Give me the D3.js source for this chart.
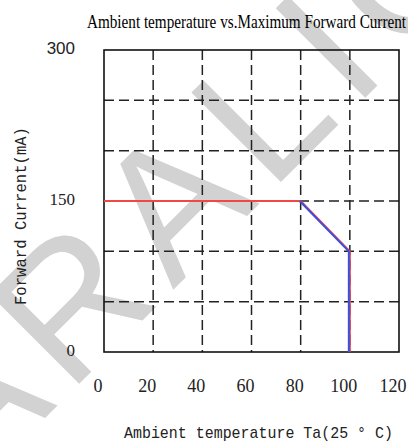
<!DOCTYPE html>
<html><head><meta charset="utf-8">
<script src="https://cdn.jsdelivr.net/npm/d3@7"></script>
<style>html,body{margin:0;padding:0;background:#fff;}svg{display:block;}</style>
</head><body>
<svg id="chart" width="408" height="447"></svg>
<script>
// ---- data ----
const xTicks = [0, 20, 40, 60, 80, 100, 120];
const yTicks = [0, 150, 300];
const xGrid = [20, 40, 60, 80, 100];
const yGrid = [50, 100, 150, 200, 250];
const deratingTemp = [0, 80, 100, 100];
const deratingCurrent = [150, 150, 100, 0];
const blueTemp = [80, 100, 100];
const blueCurrent = [150, 100, 0];
const titleText = "Ambient temperature vs.Maximum Forward Current";
const xLabel = "Ambient temperature Ta(25 ° C)";
const yLabel = "Forward Current(mA)";
const watermark = "ARALIGHT";

const svg = d3.select("#chart");
const W = 408, H = 447;
const m = {left: 104, right: 9, top: 50, bottom: 95};
const x = d3.scaleLinear().domain([0, 120]).range([m.left, W - m.right]);
const y = d3.scaleLinear().domain([0, 300]).range([H - m.bottom, m.top]);

// watermark (behind everything)
svg.append("text")
  .attr("transform", "translate(-29,492) rotate(-45)")
  .attr("font-family", "Liberation Sans, Arial, sans-serif")
  .attr("font-size", 184)
  .attr("letter-spacing", 15)
  .attr("fill", "#d2d2d2")
  .text(watermark);

// grid
const g = svg.append("g");
g.selectAll("line.vg").data(xGrid).join("line")
  .attr("x1", d => x(d)).attr("x2", d => x(d))
  .attr("y1", y(300)).attr("y2", y(0))
  .attr("stroke", "#222").attr("stroke-width", 1.5)
  .attr("stroke-dasharray", "10,5");
g.selectAll("line.hg").data(yGrid).join("line")
  .attr("y1", d => y(d)).attr("y2", d => y(d))
  .attr("x1", x(0)).attr("x2", x(120))
  .attr("stroke", "#222").attr("stroke-width", 1.5)
  .attr("stroke-dasharray", "10,5");
// frame
g.append("rect")
  .attr("x", x(0)).attr("y", y(300))
  .attr("width", x(120) - x(0)).attr("height", y(0) - y(300))
  .attr("fill", "none").attr("stroke", "#111").attr("stroke-width", 1.6);

// lines
const line = d3.line().x(d => x(d[0])).y(d => y(d[1]));
svg.append("path")
  .datum(deratingTemp.map((t, i) => [t, deratingCurrent[i]]))
  .attr("d", line).attr("fill", "none")
  .attr("stroke", "#f04848").attr("stroke-width", 2);
svg.append("path")
  .datum(blueTemp.map((t, i) => [t, blueCurrent[i]]))
  .attr("d", line).attr("fill", "none")
  .attr("transform", "translate(-1,0)")
  .attr("stroke", "#3a4fe0").attr("stroke-width", 2);

// x tick labels
svg.selectAll("text.xt").data(xTicks).join("text")
  .attr("x", d => x(d) - 6).attr("y", 392)
  .attr("text-anchor", "middle")
  .attr("font-family", "Liberation Serif, Times New Roman, serif")
  .attr("font-size", 18).attr("fill", "#222")
  .text(d => d);

// y tick labels
svg.selectAll("text.yt").data(yTicks).join("text")
  .attr("x", 75).attr("y", d => y(d) + 4)
  .attr("text-anchor", "end")
  .attr("font-family", d => d === 300 ? "Liberation Sans, Arial, sans-serif" : "Liberation Serif, serif")
  .attr("font-size", 17).attr("fill", "#222")
  .text(d => d);

// title
svg.append("text")
  .attr("x", 87).attr("y", 28)
  .attr("font-family", "Liberation Serif, Times New Roman, serif")
  .attr("font-size", 19).attr("fill", "#000")
  .attr("textLength", 319).attr("lengthAdjust", "spacingAndGlyphs")
  .text(titleText);

// x axis title
svg.append("text")
  .attr("x", 124).attr("y", 438)
  .attr("font-family", "Liberation Mono, Courier New, monospace")
  .attr("font-size", 17).attr("fill", "#222")
  .attr("textLength", 269).attr("lengthAdjust", "spacingAndGlyphs")
  .text(xLabel);

// y axis title
svg.append("text")
  .attr("transform", "translate(26,305) rotate(-90)")
  .attr("font-family", "Liberation Mono, Courier New, monospace")
  .attr("font-size", 17).attr("fill", "#222")
  .attr("textLength", 178).attr("lengthAdjust", "spacingAndGlyphs")
  .text(yLabel);
</script>
</body></html>
